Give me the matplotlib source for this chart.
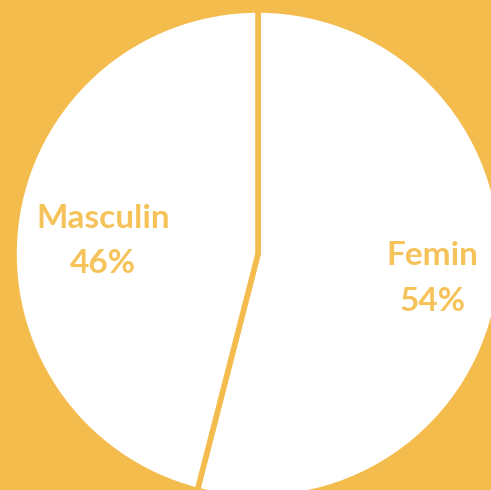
import numpy as np
import matplotlib.pyplot as plt

labels = ['Femin', 'Masculin']
values = [54, 46]

bg = '#F4BC4D'
txt = '#F5C35A'

fig = plt.figure(figsize=(4.91, 4.90), dpi=100, facecolor=bg)
ax = fig.add_axes([0, 0, 1, 1])
ax.set_facecolor(bg)

wedges, _ = ax.pie(values, startangle=90, counterclock=False,
                   colors=['white', 'white'],
                   wedgeprops=dict(edgecolor=bg, linewidth=4))

# label distance from centre and small vertical nudge for each slice
dist = [0.72, 0.64]
nudge = [-0.01, -0.027]
for w, lab, v, d, dy in zip(wedges, labels, values, dist, nudge):
    ang = np.deg2rad((w.theta1 + w.theta2) / 2)
    ax.text(d * np.cos(ang), d * np.sin(ang) + dy, f'{lab}\n{v}%',
            ha='center', va='center', color=txt, fontsize=24,
            fontweight='bold', family='Lato', linespacing=1.7)

ax.set_xlim(-258 / 244, 233 / 244)
ax.set_ylim(-236 / 244, 254 / 244)
ax.set_aspect('equal')
ax.axis('off')

fig.savefig('out.png', dpi=100, facecolor=bg)
